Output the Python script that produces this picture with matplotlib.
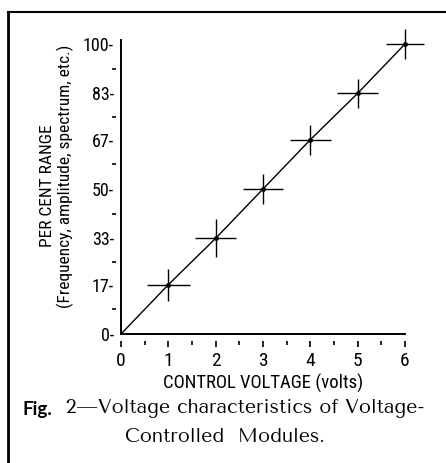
import matplotlib.pyplot as plt
from matplotlib.lines import Line2D

volts = [1, 2, 3, 4, 5, 6]
percent = [17, 33, 50, 67, 83, 100]
volt_err = [0.45, 0.44, 0.42, 0.43, 0.43, 0.41]
pct_err = [5.5, 6.5, 5.2, 5.2, 5.0, 5.2]
y_ticks = [0, 17, 33, 50, 67, 83, 100]
y_minor = [8.5, 25, 41.5, 58.5, 75, 91.5]
x_ticks = [0, 1, 2, 3, 4, 5, 6]
x_minor = [0.5, 1.5, 2.5, 3.5, 4.5, 5.5]

plt.rcParams['font.family'] = ['Roboto Condensed', 'DejaVu Sans']
cap = ['Tenor Sans', 'Belleza', 'Lato', 'DejaVu Sans']

fig = plt.figure(figsize=(4.46, 4.63), dpi=100)
ax = fig.add_axes([121 / 446, 129 / 463, 284 / 446, 290 / 463])

# line from the origin through the measured points
ax.plot([0] + volts, [0] + percent, color='black', lw=1.0, clip_on=False)
ax.errorbar(volts, percent, xerr=volt_err, yerr=pct_err, fmt='none',
            ecolor='black', elinewidth=1.0, capsize=0, clip_on=False)
ax.plot(volts, percent, 'o', color='black', ms=2.5, clip_on=False)

ax.set_xlim(0, 6)
ax.set_ylim(0, 100)
for s in ['top', 'right']:
    ax.spines[s].set_visible(False)
ax.spines['left'].set_bounds(0, 101.5)
ax.spines['left'].set_linewidth(1.4)
ax.spines['bottom'].set_linewidth(1.4)

ax.set_yticks(y_ticks)
ax.set_yticklabels([f'{v}-' for v in y_ticks])
ax.tick_params(axis='y', length=0, pad=5, labelsize=13)
ax.set_xticks(x_ticks)
ax.set_xticklabels([str(v) for v in x_ticks])
ax.tick_params(axis='x', length=0, pad=13, labelsize=14)

# small tick marks and dots standing off the axes
xt = ax.get_xaxis_transform()
ax.plot(x_ticks, [-0.035] * len(x_ticks), ls='none', marker='|', ms=5, mew=1.2,
        color='black', transform=xt, clip_on=False)
ax.plot(x_minor, [-0.03] * len(x_minor), ls='none', marker='|', ms=2.5, mew=1.2,
        color='black', transform=xt, clip_on=False)
yt = ax.get_yaxis_transform()
ax.plot([-0.025] * len(y_minor), y_minor, ls='none', marker='_', ms=2.5, mew=1.2,
        color='black', transform=yt, clip_on=False)

ax.set_xlabel('CONTROL VOLTAGE (volts)', fontsize=13.5, labelpad=3)

fig.text(47 / 446, 1 - 186 / 463, 'PER CENT RANGE', rotation=90,
         ha='center', va='center', fontsize=12.5)
fig.text(65 / 446, 1 - 176 / 463, '(Frequency, amplitude, spectrum, etc.)',
         rotation=90, ha='center', va='center', fontsize=12.5)

# caption
t1 = fig.text(22 / 446, 1 - 410 / 463, 'Fig.', ha='left', va='center',
              fontsize=13.5, fontweight='bold', family=['Lato', 'DejaVu Sans'])
plt.annotate('  2\u2014Voltage characteristics of Voltage-', xy=(1, 0), xycoords=t1,
             ha='left', va='bottom', fontsize=14, family=cap)
fig.text(225 / 446, 1 - 438 / 463, 'Controlled  Modules.', ha='center',
         va='center', fontsize=14, family=cap)

# frame of the printed figure
fig.add_artist(Line2D([8 / 446, 1], [1 - 12 / 463] * 2, color='black', lw=1.5,
                      transform=fig.transFigure))
fig.add_artist(Line2D([8 / 446] * 2, [0, 1 - 12 / 463], color='black', lw=2.0,
                      transform=fig.transFigure))

fig.savefig('out.png', dpi=100)
